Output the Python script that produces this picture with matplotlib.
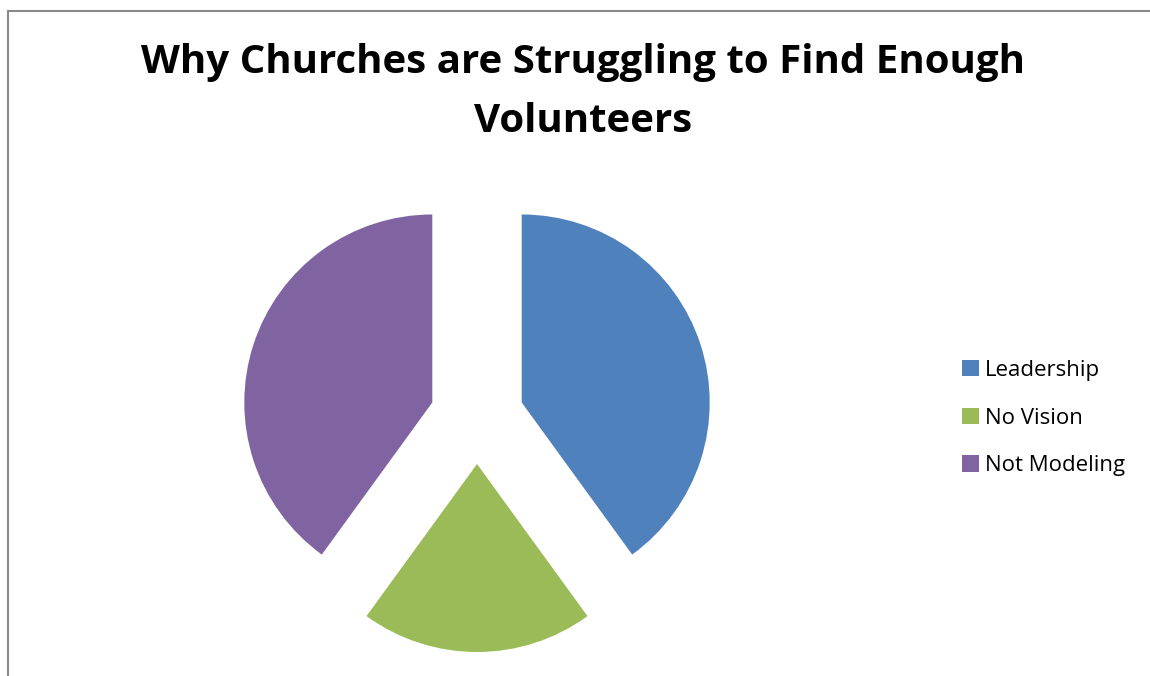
import matplotlib
matplotlib.use('Agg')
import matplotlib.pyplot as plt
from matplotlib.patches import Rectangle

# slice data
labels = ['Leadership', 'No Vision', 'Not Modeling']
values = [40, 20, 40]
colours = ['#4F81BD', '#9BBB59', '#8064A2']
title = 'Why Churches are Struggling to Find Enough\nVolunteers'

W, H = 1150, 676
fig = plt.figure(figsize=(W / 100, H / 100), dpi=100)
# one axes in pixel units over the whole figure
ax = fig.add_axes([0, 0, 1, 1])

# thin grey frame (left and top show in the picture)
ax.add_patch(Rectangle((7.5, -5), W, H - 11 + 5, fill=False,
                       edgecolor='#898989', linewidth=1.5))

# explode is in data units here (pixels)
wedges, _ = ax.pie(values, colors=colours, startangle=90, counterclock=False,
                   explode=[47] * len(values), radius=188,
                   center=(477, H - 417), frame=True)
ax.set_xlim(0, W)
ax.set_ylim(0, H)
ax.set_aspect('equal')
ax.axis('off')

fig.text(583 / W, 1 - 92 / H, title, ha='center', va='center',
         fontsize=29, fontweight='bold', family='Open Sans',
         linespacing=1.7)

leg = fig.legend(wedges, labels, loc='center left',
                 bbox_to_anchor=(942 / W, 1 - 418 / H), frameon=False,
                 prop={'family': 'Open Sans', 'size': 16},
                 handlelength=0.75, handleheight=0.75, handletextpad=0.3,
                 labelspacing=1.2)

fig.savefig('out.png', dpi=100)
